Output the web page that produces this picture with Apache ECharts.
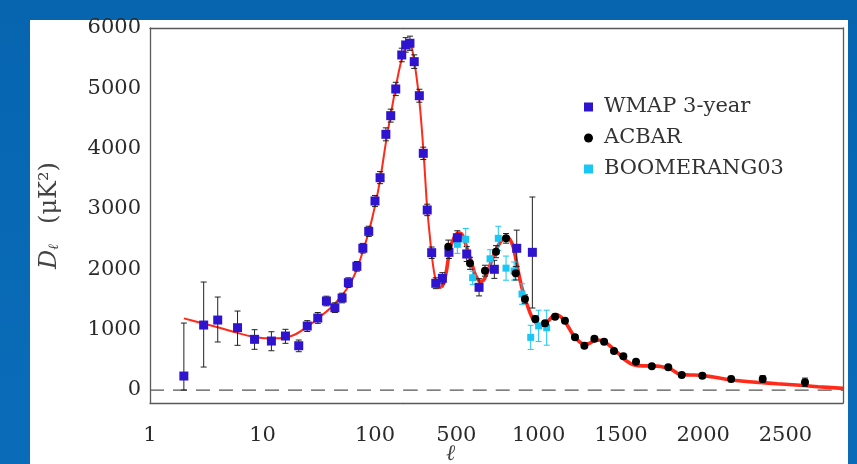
<!DOCTYPE html>
<html><head><meta charset="utf-8">
<script src="https://cdn.jsdelivr.net/npm/echarts@6/dist/echarts.min.js"></script>
<style>
html,body{margin:0;padding:0;width:857px;height:464px;overflow:hidden;background:linear-gradient(180deg,#0765b0 0%,#0a6cb9 100%);}
#panel{position:absolute;left:30px;top:20px;width:818px;height:444px;background:#fff;}
#c,#t{position:absolute;left:0;top:0;width:857px;height:464px;}
</style></head><body>
<div id="panel"></div><div id="c"></div><div id="t"></div>
<script>
let errs = [];
window.addEventListener('error', e => { errs.push(String(e.message).slice(0, 60)); });
// ---- data ----
const curveL = [2, 2.8, 4, 5.5, 7.7, 11, 14, 19, 25, 32, 43, 58, 69, 78, 88, 100, 111, 125, 138, 153, 168, 180, 192, 205, 218, 230, 244, 260, 275, 290, 305, 323, 337, 350, 365, 380, 395, 410, 425, 440, 461, 485, 512, 530, 545, 563, 593, 615, 638, 655, 670, 690, 710, 735, 760, 785, 805, 825, 845, 867, 882, 897, 912, 928, 958, 988, 1010, 1030, 1060, 1085, 1105, 1125, 1150, 1180, 1211, 1240, 1272, 1300, 1325, 1350, 1375, 1400, 1430, 1460, 1495, 1530, 1576, 1637, 1700, 1740, 1770, 1800, 1830, 1860, 1920, 1981, 2062, 2163, 2250, 2346, 2450, 2589, 2700, 2850];
const curveD = [1188, 1116, 1039, 967, 895, 857, 857, 912, 1049, 1205, 1409, 1712, 2000, 2300, 2620, 3050, 3480, 4100, 4560, 5020, 5390, 5580, 5710, 5780, 5770, 5670, 5450, 5150, 4800, 4330, 3760, 3000, 2600, 2250, 1950, 1760, 1690, 1700, 1790, 1980, 2330, 2520, 2600, 2590, 2520, 2360, 2110, 1910, 1810, 1800, 1840, 1960, 2110, 2290, 2420, 2510, 2540, 2500, 2380, 2100, 1890, 1710, 1560, 1430, 1215, 1100, 1070, 1080, 1150, 1220, 1250, 1230, 1170, 1050, 910, 820, 765, 765, 800, 825, 825, 800, 740, 670, 580, 490, 420, 400, 400, 390, 375, 350, 300, 260, 250, 245, 215, 170, 145, 125, 105, 80, 55, 28];

const wmapL  = [2, 3, 4, 6, 8.5, 12, 16, 21, 25, 31, 37, 44, 51, 58, 69, 78, 88, 100, 111, 125, 138, 153, 173, 192, 218, 244, 275, 299, 323, 350, 375, 415, 455, 506, 563, 638, 731, 867, 962];
const wmapD  = [232, 1077, 1160, 1033, 840, 812, 895, 734, 1061, 1193, 1475, 1364, 1525, 1779, 2050, 2350, 2630, 3133, 3519, 4238, 4547, 4989, 5553, 5719, 5747, 5442, 4878, 3923, 2984, 2276, 1769, 1851, 2282, 2524, 2254, 1702, 2001, 2349, 2282];
const wmapLo = [0, 381, 796, 741, 675, 651, 774, 635, 970, 1105, 1395, 1285, 1445, 1700, 1970, 2270, 2545, 3040, 3420, 4130, 4440, 4880, 5440, 5600, 5630, 5330, 4770, 3820, 2890, 2180, 1680, 1760, 2180, 2410, 2130, 1560, 1850, 2050, 1359];
const wmapHi = [1110, 1790, 1541, 1309, 1000, 966, 1006, 829, 1150, 1285, 1555, 1445, 1605, 1860, 2130, 2430, 2715, 3225, 3620, 4345, 4655, 5100, 5665, 5840, 5865, 5555, 4985, 4025, 3080, 2370, 1860, 1945, 2385, 2640, 2380, 1845, 2150, 2650, 3199];

const acbarL   = [451, 583, 674, 741, 802, 861, 917, 980, 1039, 1100, 1160, 1221, 1278, 1339, 1398, 1458, 1515, 1592, 1688, 1788, 1870, 1995, 2170, 2362, 2619];
const acbarD   = [2375, 2100, 1978, 2293, 2514, 1934, 1508, 1177, 1105, 1215, 1149, 873, 734, 850, 801, 646, 558, 469, 393, 376, 249, 237, 182, 182, 128];
const acbarErr = [110, 100, 90, 100, 80, 110, 70, 50, 45, 40, 40, 35, 30, 30, 30, 28, 25, 25, 25, 28, 35, 40, 45, 55, 70];

const boomL   = [506, 557, 599, 705, 755, 802, 851, 899, 952, 1000, 1049];
const boomD   = [2415, 2498, 1861, 2175, 2514, 2020, 1972, 1591, 873, 1063, 1033];
const boomErr = [150, 180, 110, 150, 200, 200, 150, 170, 200, 260, 290];

const xLabelsLog = [1, 10, 100];
const xMinorLog  = [2, 3, 4, 5, 6, 7, 8, 9, 20, 30, 40, 50, 60, 70, 80, 90];
const xLabelsLin = [500, 1000, 1500, 2000, 2500];
const xMinorLin  = [200, 300, 400, 600, 700, 800, 900, 1100, 1200, 1300, 1400, 1600, 1700, 1800, 1900, 2100, 2200, 2300, 2400, 2600, 2700, 2800];
const yLabels = [0, 1000, 2000, 3000, 4000, 5000, 6000];
const yRight  = [200, 600, 1000, 1400, 1800, 2200, 2600, 3000, 3400, 3800, 4200, 4600, 5000, 5400, 5800];

// ---- layout ----
const LB = 180, LMIN = 1, LMAX = 2850, YMIN = -215, YMAX = 6000;
const FONT = 'DejaVu Serif', TXT = '#2a2a2a', FRAME = '#5a5a5a';
const X0 = 150, XB = 403.7, X1 = 843, TOP = 28, BOT = 403;
const GRIDS = [
  { left: X0, top: TOP, width: XB - X0, height: BOT - TOP },
  { left: XB, top: TOP, width: X1 - XB, height: BOT - TOP }
];

const inG = (l, gi) => gi === 0 ? l <= LB : l >= LB;
function pts(L, D, gi, lo, hi) {
  const out = [];
  L.forEach((l, i) => { if (inG(l, gi) && (lo === undefined || (l >= lo && l <= hi))) out.push([l, D[i]]); });
  return out;
}
function bars(L, lo, hi, gi) {
  const out = [];
  L.forEach((l, i) => { if (inG(l, gi)) out.push([l, lo(i), hi(i)]); });
  return out;
}
const axOf = gi => ({ xAxisIndex: gi, yAxisIndex: gi });

function errSeries(name, rows, color, cap, gi) {
  return Object.assign({
    type: 'custom', name: name, silent: true, data: rows, z: 3,
    encode: { x: 0, y: [1, 2] },
    renderItem: function (p, api) {
      const l = api.value(0);
      const a = api.coord([l, api.value(1)]);
      const b = api.coord([l, api.value(2)]);
      const st = { stroke: color, lineWidth: 1 };
      return { type: 'group', children: [
        { type: 'line', shape: { x1: a[0], y1: a[1], x2: b[0], y2: b[1] }, style: st },
        { type: 'line', shape: { x1: a[0] - cap, y1: a[1], x2: a[0] + cap, y2: a[1] }, style: st },
        { type: 'line', shape: { x1: b[0] - cap, y1: b[1], x2: b[0] + cap, y2: b[1] }, style: st }
      ] };
    }
  }, axOf(gi));
}

// ---------- chart 1: data, labels, legend ----------
function xLab(gi) {
  const isLog = gi === 0;
  return {
    type: isLog ? 'log' : 'value', gridIndex: gi, position: 'bottom',
    min: isLog ? LMIN : LB, max: isLog ? LB : LMAX,
    axisLine: { show: false, onZero: false }, axisTick: { show: false },
    axisLabel: { show: true, customValues: isLog ? xLabelsLog : xLabelsLin,
      margin: 22, fontFamily: FONT, fontSize: 21, color: TXT,
      formatter: v => String(Math.round(v)) },
    splitLine: { show: false }
  };
}

const series = [];
[0, 1].forEach(gi => {
  series.push(Object.assign({ type: 'line', name: 'zero', silent: true, symbol: 'none', z: 1,
    data: gi === 0 ? [[LMIN, 0], [LB, 0]] : [[LB, 0], [LMAX, 0]],
    lineStyle: { color: '#555', width: 1.3, type: [14, 9] } }, axOf(gi)));
});
series.push(Object.assign({ type: 'line', name: 'theory', silent: true, symbol: 'none', smooth: 0.35, z: 2,
  data: pts(curveL, curveD, 0), lineStyle: { color: '#ff2a1a', width: 2 } }, axOf(0)));
series.push(Object.assign({ type: 'line', name: 'theory', silent: true, symbol: 'none', smooth: 0.35, z: 2,
  data: pts(curveL, curveD, 1, LB, 410), lineStyle: { color: '#ff2a1a', width: 2 } }, axOf(1)));
series.push(Object.assign({ type: 'line', name: 'theory', silent: true, symbol: 'none', smooth: 0.35, z: 2,
  data: pts(curveL, curveD, 1, 410, LMAX), lineStyle: { color: '#ff2a1a', width: 3.6 } }, axOf(1)));

[0, 1].forEach(gi => {
  series.push(errSeries('wmapErr', bars(wmapL, i => wmapLo[i], i => wmapHi[i], gi), '#222', 3, gi));
});
series.push(errSeries('boomErr', bars(boomL, i => boomD[i] - boomErr[i], i => boomD[i] + boomErr[i], 1), '#1ac6f4', 3, 1));
series.push(errSeries('acbarErr', bars(acbarL, i => acbarD[i] - acbarErr[i], i => acbarD[i] + acbarErr[i], 1), '#222', 3, 1));

series.push(Object.assign({ type: 'scatter', name: 'BOOMERANG03', symbol: 'rect', symbolSize: 7, z: 4,
  data: pts(boomL, boomD, 1), itemStyle: { color: '#1ac6f4', opacity: 1 } }, axOf(1)));
[0, 1].forEach(gi => {
  series.push(Object.assign({ type: 'scatter', name: 'WMAP 3-year', symbol: 'rect', symbolSize: 9, z: 5,
    data: pts(wmapL, wmapD, gi), itemStyle: { color: '#2f14cf', opacity: 1 } }, axOf(gi)));
});
series.push(Object.assign({ type: 'scatter', name: 'ACBAR', symbol: 'circle', symbolSize: 8, z: 6,
  data: pts(acbarL, acbarD, 1), itemStyle: { color: '#000', opacity: 1 } }, axOf(1)));

const option = {
  animation: false,
  grid: GRIDS,
  xAxis: [xLab(0), xLab(1)],
  yAxis: [
    { type: 'value', gridIndex: 0, position: 'left', min: YMIN, max: YMAX,
      axisLine: { show: false, onZero: false }, axisTick: { show: false },
      axisLabel: { show: true, customValues: yLabels, margin: 9, fontFamily: FONT, fontSize: 21, color: TXT,
        formatter: v => String(Math.round(v)) },
      splitLine: { show: false },
      name: '{d|D}{s|ℓ}      {n|(μK²)}', nameLocation: 'middle', nameGap: 88, nameRotate: 90,
      nameTextStyle: { color: '#444', rich: {
        d: { fontFamily: FONT, fontStyle: 'italic', fontSize: 24, color: '#444' },
        s: { fontFamily: FONT, fontStyle: 'italic', fontSize: 14, color: '#444', padding: [9, 0, 0, 0] },
        n: { fontFamily: FONT, fontSize: 24, color: '#444' } } } },
    { type: 'value', gridIndex: 1, position: 'right', min: YMIN, max: YMAX,
      axisLine: { show: false, onZero: false }, axisTick: { show: false },
      axisLabel: { show: false }, splitLine: { show: false } }
  ],
  legend: {
    orient: 'vertical', left: 579, top: 91, itemWidth: 9, itemHeight: 9, itemGap: 9, selectedMode: false,
    textStyle: { fontFamily: FONT, fontSize: 21, color: '#333', lineHeight: 22, padding: [0, 0, 0, 6] },
    data: [{ name: 'WMAP 3-year', icon: 'rect' }, { name: 'ACBAR', icon: 'circle' }, { name: 'BOOMERANG03', icon: 'rect' }]
  },
  graphic: [
    { type: 'text', left: 446, top: 443, style: { text: 'ℓ', font: 'italic 22px "DejaVu Serif"', fill: '#444' } }
  ],
  series: series
};
let c1, c2;
try { c1 = echarts.init(document.getElementById('c'), null, { renderer: 'canvas' }); c1.setOption(option); }
catch (e) { errs.push('c1:' + String(e.message).slice(0, 60)); }

// ---------- chart 2: frame and ticks (same grids) ----------
function xTick(gi, pos, major) {
  const isLog = gi === 0;
  return {
    type: isLog ? 'log' : 'value', gridIndex: gi, position: pos,
    min: isLog ? LMIN : LB, max: isLog ? LB : LMAX,
    axisLine: { show: major, onZero: false, lineStyle: { color: FRAME, width: 1.3 } },
    axisTick: { show: true, inside: true, length: major ? 8 : 4,
      customValues: major ? (isLog ? xLabelsLog : xLabelsLin) : (isLog ? xMinorLog : xMinorLin),
      lineStyle: { color: FRAME, width: 1 } },
    axisLabel: { show: false },
    splitLine: { show: false }
  };
}
const frameOption = {
  animation: false,
  grid: GRIDS,
  xAxis: [xTick(0, 'bottom', true), xTick(0, 'bottom', false), xTick(0, 'top', true), xTick(0, 'top', false),
          xTick(1, 'bottom', true), xTick(1, 'bottom', false), xTick(1, 'top', true), xTick(1, 'top', false)],
  yAxis: [
    { type: 'value', gridIndex: 0, position: 'left', min: YMIN, max: YMAX,
      axisLine: { show: true, onZero: false, lineStyle: { color: FRAME, width: 1.3 } },
      axisTick: { show: true, inside: true, length: 8, customValues: yLabels, lineStyle: { color: FRAME } },
      axisLabel: { show: false }, splitLine: { show: false } },
    { type: 'value', gridIndex: 1, position: 'right', min: YMIN, max: YMAX,
      axisLine: { show: true, onZero: false, lineStyle: { color: FRAME, width: 1.3 } },
      axisTick: { show: true, inside: true, length: 4, customValues: yRight, lineStyle: { color: FRAME } },
      axisLabel: { show: false }, splitLine: { show: false } }
  ],
  series: [
    { type: 'scatter', xAxisIndex: 0, yAxisIndex: 0, symbolSize: 0, silent: true, itemStyle: { opacity: 0 }, data: pts(wmapL, wmapD, 0) },
    { type: 'scatter', xAxisIndex: 4, yAxisIndex: 1, symbolSize: 0, silent: true, itemStyle: { opacity: 0 }, data: pts(acbarL, acbarD, 1) }
  ]
};
try { c2 = echarts.init(document.getElementById('t'), null, { renderer: 'canvas' }); c2.setOption(frameOption); }
catch (e) { errs.push('c2:' + String(e.message).slice(0, 60)); }

// refresh the display lists of both charts (kept from the working build)
function refreshLists() {
  [c1, c2].forEach(c => { if (c) c.getZr().storage.getDisplayList(true); });
}
refreshLists();
setTimeout(refreshLists, 300);
</script></body></html>
